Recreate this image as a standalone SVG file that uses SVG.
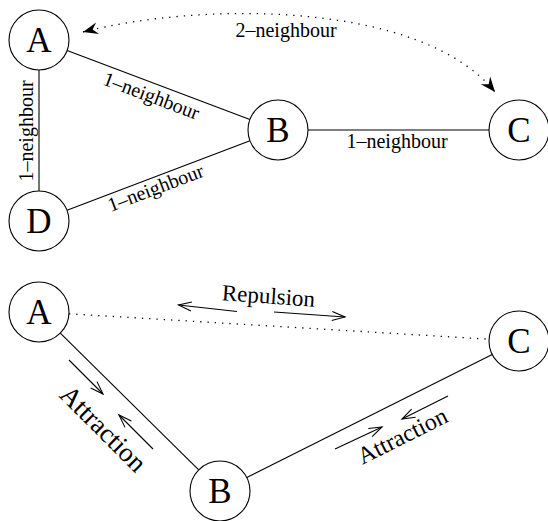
<svg xmlns="http://www.w3.org/2000/svg" width="548" height="521" viewBox="0 0 548 521">
<style>
.node circle{fill:#fff;stroke:#000;stroke-width:1.1}
.node text{font-family:"Liberation Serif","Times New Roman",serif;font-size:35px;text-anchor:middle;fill:#000}
.edge{fill:none;stroke:#000;stroke-width:1.1}
.dot{fill:none;stroke:#000;stroke-width:1.3;stroke-dasharray:1.3 6}
.arr{fill:none;stroke:#000;stroke-width:1.1;marker-end:url(#open)}
.lbl{font-family:"Liberation Serif","Times New Roman",serif;font-size:20px;text-anchor:middle;fill:#000}
</style>
<defs>
<marker id="dart" markerUnits="userSpaceOnUse" markerWidth="20" markerHeight="16" viewBox="-16 -8 20 16" refX="0" refY="0" orient="auto-start-reverse" overflow="visible">
<path d="M0,0 L-15,-6 L-10,0 L-15,6 Z" fill="#000"/>
</marker>
<marker id="open" markerUnits="userSpaceOnUse" markerWidth="20" markerHeight="16" viewBox="-16 -8 20 16" refX="0" refY="0" orient="auto" overflow="visible">
<path d="M-13,-4.5 L0,0 L-13,4.5" fill="none" stroke="#000" stroke-width="1.1"/>
</marker>
</defs>
<g id="connectors">
<line class="edge" x1="39" y1="70" x2="39" y2="191"/>
<line class="edge" x1="67.1" y1="50.6" x2="249.9" y2="119.4"/>
<line class="edge" x1="67" y1="210.3" x2="250" y2="140.7"/>
<line class="edge" x1="308" y1="130" x2="489" y2="130"/>
<path class="dot" d="M83,32 C200,2 420,0 495,92" marker-start="url(#dart)" marker-end="url(#dart)"/>
<text class="lbl" transform="translate(33,131) rotate(-90)">1–neighbour</text>
<text class="lbl" transform="translate(149,102) rotate(20.6)">1–neighbour</text>
<text class="lbl" transform="translate(158,194) rotate(-20.8)">1–neighbour</text>
<text class="lbl" x="397" y="147.5">1–neighbour</text>
<text class="lbl" x="286" y="36.5">2–neighbour</text>
<line class="dot" x1="69" y1="313.8" x2="489" y2="339.2"/>
<line class="edge" x1="60.3" y1="333.1" x2="198.7" y2="469.9"/>
<line class="edge" x1="246.8" y1="477.6" x2="492.2" y2="354.4"/>
<path class="arr" d="M237,311.5 L178.5,305"/>
<path class="arr" d="M274,312 L345,317"/>
<text class="lbl" style="font-size:23px" transform="translate(268,303.5) rotate(4)">Repulsion</text>
<path class="arr" d="M69,360 L103,394"/>
<path class="arr" d="M153,449 L119,415"/>
<text class="lbl" style="font-size:27px" transform="translate(97,435) rotate(45)">Attraction</text>
<path class="arr" d="M335,449 L382,427"/>
<path class="arr" d="M448,396 L402,419"/>
<text class="lbl" style="font-size:24px" transform="translate(406,443) rotate(-26.7)">Attraction</text>
</g>
<g id="nodeA1" class="node"><circle cx="39" cy="40" r="30"/><text x="39" y="51.5">A</text></g>
<g id="nodeB1" class="node"><circle cx="278" cy="130" r="30"/><text x="278" y="141.5">B</text></g>
<g id="nodeC1" class="node"><circle cx="519" cy="130" r="30"/><text x="519" y="141.5">C</text></g>
<g id="nodeD1" class="node"><circle cx="39" cy="221" r="30"/><text x="39" y="232.5">D</text></g>
<g id="nodeA2" class="node"><circle cx="39" cy="312" r="30"/><text x="39" y="323.5">A</text></g>
<g id="nodeB2" class="node"><circle cx="220" cy="491" r="30"/><text x="220" y="502.5">B</text></g>
<g id="nodeC2" class="node"><circle cx="519" cy="341" r="30"/><text x="519" y="352.5">C</text></g>
</svg>
